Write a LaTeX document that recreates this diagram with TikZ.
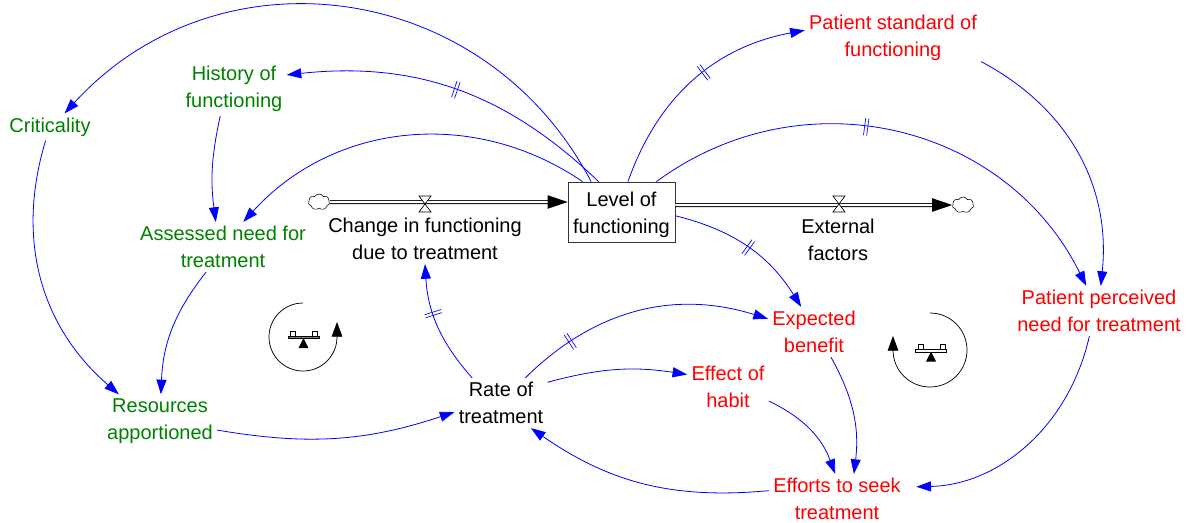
\documentclass[tikz,border=0pt]{standalone}
\usepackage{fontspec}
\setmainfont{Liberation Sans}
\usetikzlibrary{arrows.meta,decorations.markings,shapes.symbols}

\definecolor{sdgreen}{RGB}{0,128,0}

\tikzset{
  var/.style={align=center, inner sep=3pt, font=\fontsize{15}{20.2}\selectfont},
  sectorvar/.style={var, text=sdgreen},
  patientvar/.style={var, text=red},
  stock/.style={var, draw=black!80, line width=.6pt, minimum width=80.25pt, minimum height=45pt, inner sep=0pt},
  link/.style={blue, line width=.6pt, -{Triangle[length=11pt,width=7.5pt]}},
  flow/.style={draw=black, line width=.7pt, double=white, double distance=1.6pt, -{Triangle[length=15pt,width=10pt,fill=black]}},
  source/.style={cloud, cloud puffs=7, cloud puff arc=120, aspect=1.4, draw, line width=.4pt, fill=white, minimum width=16pt, minimum height=12pt, inner sep=0pt},
  delaymark/.style={postaction={decorate, decoration={markings, mark=at position #1 with {
    \draw[blue, line width=.5pt, -] (-1.2pt,-6.5pt) -- (-1.2pt,6.5pt);
    \draw[blue, line width=.5pt, -] (1.2pt,-6.5pt) -- (1.2pt,6.5pt);
  }}}},
  loopline/.style={line width=.55pt, -{Triangle[length=11pt,width=8pt]}},
  valve/.pic={
    \draw[line width=.5pt, fill=white] (-6,-8) -- (6,-8) -- (-6,8) -- (6,8) -- cycle;
  },
  seesaw/.pic={
    \fill (0,1) -- (5,11) -- (-5,11) -- cycle;
    \draw[line width=.5pt, fill=#1] (-15.5,-1) rectangle (15.5,1.5);
    \draw[line width=.5pt] (-13,-1) rectangle (-8,-6);
    \draw[line width=.5pt] (9,-1) rectangle (14,-6);
  }
}

\begin{document}
\begin{tikzpicture}[x=.75pt, y=-.75pt]
    % Same frame as the reference
    \useasboundingbox (0,0) rectangle (1189,522);

    % Stock and rates
    \node[stock] (level) at (621.5,212) {\rule{0pt}{15pt}Level of\\functioning};
    \node[var] (change) at (425,239) {Change in functioning\\due to treatment};
    \node[var] (external) at (838,240) {External\\factors};
    \node[var] (rate) at (501,403) {Rate of\\treatment};

    % Health system side
    \node[sectorvar] (history) at (234,89) {History of\\functioning};
    \node[sectorvar] (criticality) at (50,127) {Criticality};
    \node[sectorvar] (assessed) at (223,247) {Assessed need for\\treatment};
    \node[sectorvar] (resources) at (160,421) {Resources\\apportioned};

    % Patient side
    \node[patientvar] (standard) at (893,38) {Patient standard of\\functioning};
    \node[patientvar] (perceived) at (1099,311) {Patient perceived\\need for treatment};
    \node[patientvar] (expected) at (814,332) {Expected\\benefit};
    \node[patientvar] (habit) at (728,387) {Effect of\\habit};
    \node[patientvar] (efforts) at (837,499) {Efforts to seek\\treatment};

    % Flows
    \node[source] (cloudin) at (319,202) {};
    \node[source] (cloudout) at (963,205) {};
    \draw[flow] (cloudin) -- (cloudin -| level.west);
    \draw[flow] (level.east |- cloudout) -- (cloudout);
    \pic at (425,204) {valve};
    \pic at (839,204) {valve};

    % Links out of the stock
    \draw[link] (level.135) to[bend right=55, looseness=1.1] (criticality.43);
    \draw[link, delaymark=.5] (level.127) to[bend right=25] (history.15);
    \draw[link] (level.142) to[bend right=41] (assessed.51);
    \draw[link, delaymark=.55] (level.78) to[bend left=30] (standard.175);
    \draw[link, delaymark=.44] (level.41) to[bend left=50, looseness=1.05] (perceived.117);
    \draw[link, delaymark=.5] (level.-4) to[bend left=22] (expected.117);

    % Remaining links
    \draw[link] (standard.-15) to[bend left=34] (perceived.86);
    \draw[link] (history.-117) to[bend right=10] (assessed.106);
    \draw[link] (criticality.-108) to[bend right=33] (resources.147);
    \draw[link] (assessed.-124) to[bend right=18] (resources.88);
    \draw[link] (resources.-9) to[bend right=14] (rate.191);
    \draw[link, delaymark=.6] (rate.139) to[bend left=19] (change.south);
    \draw[link, delaymark=.22] (rate.46) to[bend left=31] (expected.164);
    \draw[link] (rate.24) to[bend left=12] (habit.163);
    \draw[link] (expected.-56) to[bend left=18] (efforts.56);
    \draw[link] (habit.-19) to[bend left=22] (efforts.94);
    \draw[link, shorten >=8.5pt] (perceived.-111) to[bend left=38] (efforts.10);
    \draw[link] (efforts.173) to[bend left=20] (rate.-40);

    % Balancing loops
    \draw[loopline] (303,303) arc[start angle=90, end angle=360, radius=25.5pt] -- ++(0,-15);
    \pic at (303.5,337) {seesaw=gray};
    \draw[loopline] (930,313) arc[start angle=90, end angle=-180, radius=27.75pt] -- ++(0,-14);
    \pic at (931,350.5) {seesaw=white};
\end{tikzpicture}
\end{document}
